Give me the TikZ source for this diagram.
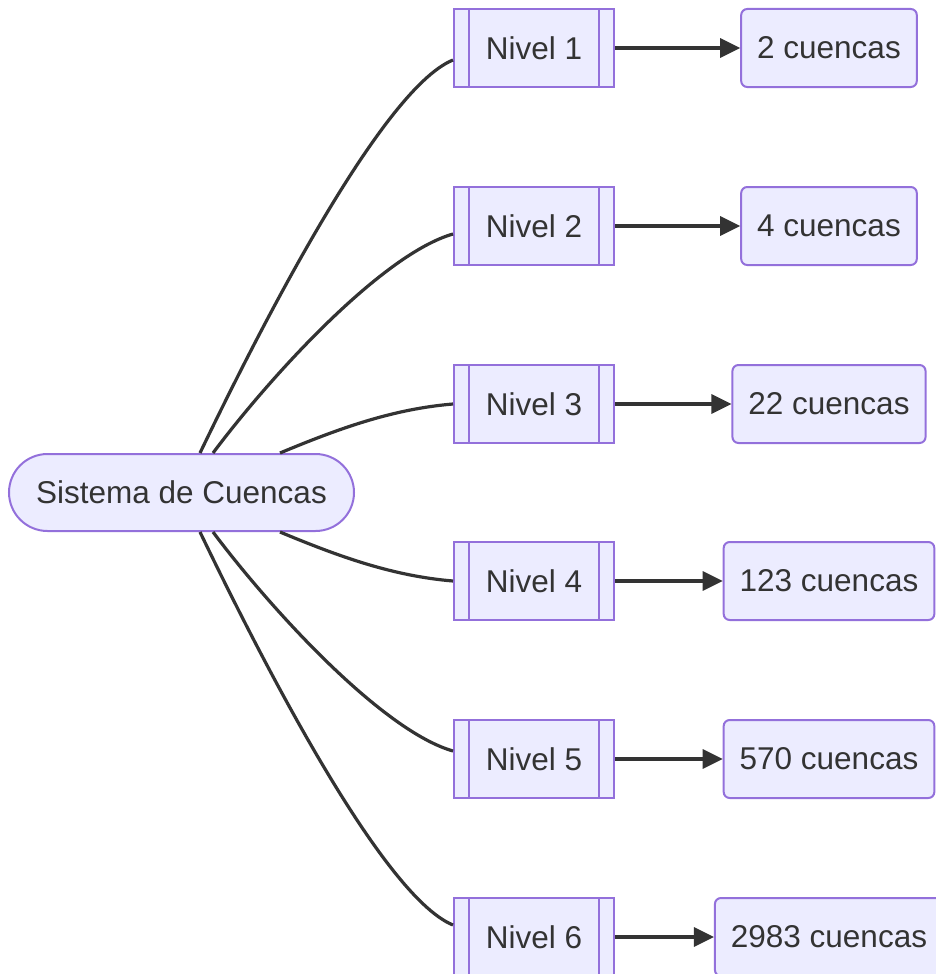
\documentclass[tikz,border=0pt]{standalone}
\usepackage{fontspec}
\setmainfont{Liberation Sans}
\usetikzlibrary{arrows.meta,shapes.misc}
\definecolor{nfill}{HTML}{ECECFF}
\definecolor{nline}{HTML}{9370DB}
\definecolor{ntext}{HTML}{333333}
\begin{document}
\begin{tikzpicture}[x=1pt,y=-1pt,
  base/.style={draw=nline,fill=nfill,line width=2pt,text=ntext,font=\fontsize{31.5}{38}\selectfont,minimum height=78pt,inner sep=0pt},
  sub/.style={base,rectangle,minimum width=160pt},
  res/.style={base,rounded corners=6pt,inner xsep=16pt},
  term/.style={base,rounded corners=38.5pt,minimum width=345pt,minimum height=77pt},
  link/.style={draw=ntext,line width=3.2pt},
  arr/.style={link,-{Triangle[length=20pt,width=19pt]}}]
\useasboundingbox (0,0) rectangle (935,974);
\node[term] (sys) at (181.5,492.5) {Sistema de Cuencas};
\foreach \i/\y/\t in {1/48/2 cuencas,2/226/4 cuencas,3/404/22 cuencas,4/581/123 cuencas,5/759/570 cuencas,6/937/2983 cuencas}{
  \node[sub] (n\i) at (534,\y) {Nivel \i};
  \draw[nline,line width=2pt] ([xshift=16pt]n\i.north west) -- ([xshift=16pt]n\i.south west);
  \draw[nline,line width=2pt] ([xshift=-16pt]n\i.north east) -- ([xshift=-16pt]n\i.south east);
  \node[res] (r\i) at (829,\y) {\t};
  \draw[arr] (n\i.east) -- (r\i.west);
}
\draw[link] ([xshift=18.5pt]sys.north) .. controls +(50,-104) and +(-74,30) .. ([yshift=-12pt]n1.west);
\draw[link] ([xshift=31.5pt]sys.north) .. controls +(60,-80) and +(-70,20) .. ([yshift=-8pt]n2.west);
\draw[link] ([xshift=98.5pt]sys.north) .. controls +(60,-25) and +(-60,5) .. ([yshift=0pt]n3.west);
\draw[link] ([xshift=98.5pt]sys.south) .. controls +(60,25) and +(-60,-5) .. ([yshift=0pt]n4.west);
\draw[link] ([xshift=31.5pt]sys.south) .. controls +(60,80) and +(-70,-20) .. ([yshift=8pt]n5.west);
\draw[link] ([xshift=18.5pt]sys.south) .. controls +(50,104) and +(-74,-30) .. ([yshift=12pt]n6.west);
\end{tikzpicture}
\end{document}
